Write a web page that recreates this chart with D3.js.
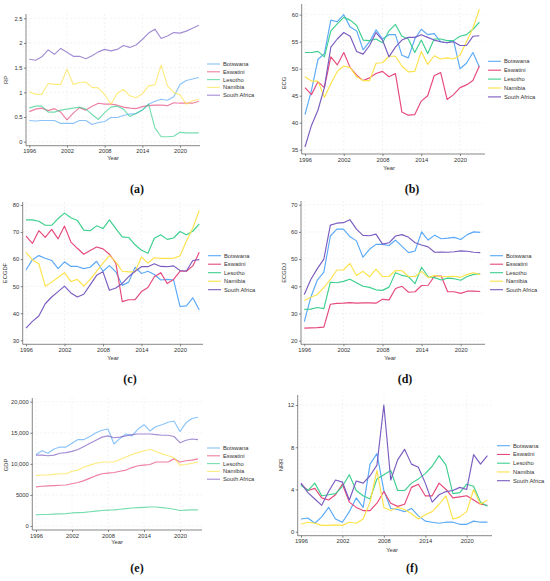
<!DOCTYPE html>
<html>
<head>
<meta charset="utf-8">
<script src="https://cdn.jsdelivr.net/npm/d3@7/dist/d3.min.js"></script>
<style>
  body { margin: 0; background: #fff; }
  svg { display: block; }
  .tick text { font-family: "Liberation Sans", Arial, sans-serif; font-size: 5.8px; fill: #333; }
  .lbl { font-family: "Liberation Sans", Arial, sans-serif; font-size: 5.8px; fill: #333; }
  .cap { font-family: "Liberation Serif", "DejaVu Serif", serif; font-size: 12px; font-weight: bold; fill: #111; }
</style>
</head>
<body>
<svg id="chart" width="550" height="581"></svg>
<script>
"use strict";

// years 1996 - 2023
var years = d3.range(1996, 2024);
var countries = ['Botswana', 'Eswatini', 'Lesotho', 'Namibia', 'South Africa'];
var colors = ['#5aa9f7', '#e6497a', '#3ccf8e', '#fde24a', '#7a5cc0'];
var yearTicks = [1996, 2002, 2008, 2014, 2020];

// (a) RP
var rpBotswana = [0.43,0.42,0.43,0.43,0.43,0.37,0.37,0.37,0.43,0.43,0.35,0.39,0.41,0.49,0.49,0.53,0.56,0.57,0.64,0.76,0.82,0.86,0.84,0.91,1.16,1.24,1.27,1.30];
var rpEswatini = [0.61,0.66,0.68,0.63,0.67,0.60,0.44,0.58,0.69,0.64,0.72,0.78,0.76,0.76,0.74,0.70,0.68,0.67,0.71,0.73,0.74,0.74,0.73,0.79,0.78,0.78,0.78,0.82];
var rpLesotho = [0.68,0.72,0.72,0.60,0.60,0.64,0.66,0.68,0.70,0.66,0.55,0.45,0.59,0.70,0.72,0.66,0.51,0.57,0.64,0.76,0.28,0.10,0.10,0.11,0.19,0.18,0.18,0.18];
var rpNamibia = [1.01,0.96,0.96,1.18,1.16,1.16,1.47,1.16,1.20,1.21,1.10,1.09,0.96,0.76,0.98,1.06,0.93,0.89,0.97,1.13,1.15,1.55,1.13,1.00,0.95,0.76,0.83,0.86];
var rpSouthAfrica = [1.67,1.65,1.72,1.86,1.77,1.89,1.81,1.73,1.73,1.68,1.74,1.82,1.87,1.84,1.87,1.95,1.91,1.96,2.07,2.20,2.28,2.09,2.14,2.21,2.20,2.24,2.30,2.36];

// (b) ECG
var ecgBotswana = [41.5,46.0,51.7,52.8,59.0,58.7,60.0,57.7,57.0,53.5,55.0,57.2,55.5,56.3,56.3,52.5,52.0,55.5,57.3,56.3,56.5,55.0,54.8,55.2,50.0,51.0,53.0,50.3];
var ecgEswatini = [46.5,45.2,47.6,46.5,52.2,50.7,53.0,50.2,48.8,47.8,48.3,49.1,49.5,48.5,49.1,42.0,41.4,41.5,44.0,45.0,48.7,49.3,44.3,45.2,46.5,47.0,47.8,50.5];
var ecgLesotho = [53.0,53.0,53.2,52.2,57.0,58.3,59.5,59.0,58.0,55.3,55.2,55.5,54.8,57.0,58.2,56.0,55.5,53.0,55.3,52.8,55.5,55.5,55.2,55.2,56.0,56.3,57.3,58.6];
var ecgNamibia = [48.5,47.7,47.7,44.7,47.2,49.5,50.5,50.2,48.5,47.8,47.8,51.0,51.1,52.3,52.3,50.5,49.4,49.5,53.2,50.8,52.4,51.8,52.0,51.8,52.5,55.0,57.5,61.0];
var ecgSouthAfrica = [35.5,39.5,42.3,46.5,54.0,55.5,56.7,56.0,53.2,52.7,54.3,56.7,55.3,52.2,54.0,55.3,55.8,55.8,56.3,55.8,55.3,55.0,54.8,55.0,54.3,54.3,56.0,56.1];

// (c) ECGDF
var ecgdfBotswana = [56.0,59.8,61.3,60.3,59.5,56.5,59.0,57.3,57.3,56.5,57.0,59.2,55.5,57.6,55.3,50.3,51.5,57.0,54.7,55.5,54.3,52.3,52.5,52.3,42.5,42.7,45.7,41.2];
var ecgdfEswatini = [68.5,65.8,70.5,68.0,71.0,67.5,72.2,66.3,64.0,61.8,63.2,64.5,63.8,61.8,58.5,44.3,45.0,45.0,48.0,49.5,53.5,55.0,51.0,52.5,55.5,55.5,57.5,62.5];
var ecgdfLesotho = [74.5,74.5,74.0,72.5,72.5,75.0,77.0,75.3,74.3,70.7,70.5,72.3,71.3,74.5,71.3,68.2,68.0,65.3,63.3,62.2,67.7,69.0,67.3,67.8,70.2,69.0,70.3,73.0];
var ecgdfNamibia = [62.5,59.7,58.3,50.0,51.5,53.2,55.0,51.7,52.5,50.0,52.5,55.5,58.5,61.3,59.0,55.5,55.3,55.3,60.8,58.5,60.5,60.3,60.3,60.3,61.2,66.7,71.5,78.0];
var ecgdfSouthAfrica = [34.5,37.0,39.0,43.5,46.0,48.0,50.0,47.5,46.0,47.0,50.5,54.0,55.3,48.5,49.3,51.0,53.5,55.5,57.2,57.2,58.3,57.3,57.2,57.5,55.8,55.6,59.5,59.8];

// (d) ECGDJ
var ecgdjBotswana = [27.0,36.0,42.3,45.2,58.5,61.0,61.0,58.3,56.7,50.7,53.6,55.4,55.4,55.0,57.0,54.7,52.4,53.0,60.0,57.0,58.8,57.5,57.7,58.0,57.2,59.0,60.0,59.8];
var ecgdjEswatini = [24.6,24.7,24.8,25.0,33.4,33.7,33.8,34.0,33.8,33.9,33.9,33.8,35.2,35.0,39.2,40.0,37.8,38.0,40.3,40.4,43.8,43.8,38.0,38.0,37.4,38.2,38.2,38.1];
var ecgdjLesotho = [31.5,31.6,32.2,31.8,41.5,41.3,41.8,42.6,41.3,40.0,39.6,38.7,38.5,39.7,45.0,44.0,43.5,41.0,47.0,43.5,43.2,42.3,43.0,42.8,42.2,43.6,44.4,44.6];
var ecgdjNamibia = [34.8,36.0,37.0,39.5,42.5,46.0,46.0,48.4,44.0,45.5,43.5,46.3,43.6,43.6,45.8,45.7,43.6,43.6,45.5,43.2,44.0,43.5,43.6,43.7,43.3,44.4,45.0,44.3];
var ecgdjSouthAfrica = [37.0,42.5,46.5,50.0,62.5,63.2,63.4,64.5,61.0,58.7,58.6,59.2,55.5,56.0,58.5,59.0,58.0,56.0,55.2,54.5,52.5,52.6,52.5,52.7,53.0,52.9,52.5,52.4];

// (e) GDP
var gdpBotswana = [11500,12100,11700,12400,12700,12700,13300,13900,13900,14400,15000,15400,15600,13200,14100,14800,14500,15600,16300,15300,16000,16300,16700,16900,15200,16600,17300,17500];
var gdpEswatini = [6300,6400,6450,6500,6550,6600,6800,7000,7300,7700,8100,8400,8500,8600,8800,9000,9400,9700,9800,9900,10300,10300,10300,10800,10300,10500,10600,10800];
var gdpLesotho = [1800,1850,1850,1900,1950,2000,2100,2150,2200,2300,2400,2500,2550,2600,2700,2800,2900,2950,3000,3050,3050,2950,2850,2700,2500,2550,2600,2600];
var gdpNamibia = [8100,8200,8200,8300,8400,8400,8800,9000,9500,9800,10100,10300,10300,10300,10700,11100,11500,11800,12100,12300,12000,11600,11300,11000,9800,9900,10100,10300];
var gdpSouthAfrica = [11400,11400,11300,11400,11700,11800,12000,12300,12800,13300,13800,14300,14500,14200,14300,14500,14700,14800,14800,14800,14700,14600,14600,14400,13400,13800,14000,13900];

// (f) NRR
var nrrBotswana = [1.2,1.3,0.8,1.4,2.3,1.2,0.9,1.9,3.2,2.3,6.4,7.4,3.9,2.2,2.1,1.9,2.2,1.5,1.0,0.9,0.8,0.9,0.9,0.7,0.7,1.0,0.9,0.9];
var nrrEswatini = [4.5,3.9,4.1,3.2,3.0,3.5,4.5,2.8,2.3,2.0,2.0,2.7,3.8,2.7,2.4,2.6,4.2,4.5,3.4,3.4,4.6,4.0,3.2,3.3,3.4,3.0,2.6,2.5];
var nrrLesotho = [4.4,3.9,4.6,3.4,3.5,3.6,4.3,5.4,3.9,3.4,3.1,5.0,5.4,5.8,3.9,3.9,4.6,5.0,5.5,6.2,7.2,6.3,3.6,3.7,4.5,4.3,2.8,2.4];
var nrrNamibia = [0.7,0.9,0.8,0.6,0.6,0.65,0.6,0.9,0.8,1.2,2.8,5.8,2.3,2.0,2.3,2.1,1.7,1.2,1.6,1.9,2.6,3.4,1.2,1.4,1.9,4.0,2.6,3.0];
var nrrSouthAfrica = [4.6,3.7,3.1,2.5,3.8,4.9,4.7,3.0,4.8,4.6,5.3,6.3,12.0,4.9,6.8,7.8,6.4,6.1,4.6,2.8,3.5,3.8,3.9,4.2,4.0,7.3,6.4,7.2];

var rpTicks = [0, 0.5, 1, 1.5, 2, 2.5];
var ecgTicks = [35, 40, 45, 50, 55, 60];
var ecgdfTicks = [30, 40, 50, 60, 70, 80];
var ecgdjTicks = [20, 30, 40, 50, 60, 70];
var gdpTicks = [0, 5000, 10000, 15000, 20000];
var nrrTicks = [0, 4, 8, 12];

// panel layout
var panels = [
	{ cap: '(a)', name: 'RP', series: [rpBotswana, rpEswatini, rpLesotho, rpNamibia, rpSouthAfrica], ticks: rpTicks,
	  fmt: d3.format(''), xr: [29.3, 180], yd: [0, 2.5], yr: [141.7, 18.3], axX: 26, axY: 145.7, top: 14, right: 200,
	  ylab: [6, 80], xlab: [113, 158], capPos: [137, 193], leg: [207, 64], legStep: 7.8, alpha: 0.7 },
	{ cap: '(b)', name: 'ECG', series: [ecgBotswana, ecgEswatini, ecgLesotho, ecgNamibia, ecgSouthAfrica], ticks: ecgTicks,
	  fmt: d3.format(''), xr: [305, 460], yd: [35, 60], yr: [149.7, 14.7], axX: 301.7, axY: 154, top: 4, right: 485,
	  ylab: [284, 83], xlab: [389, 168], capPos: [412, 193], leg: [488, 61.3], legStep: 8.9, alpha: 1 },
	{ cap: '(c)', name: 'ECGDF', series: [ecgdfBotswana, ecgdfEswatini, ecgdfLesotho, ecgdfNamibia, ecgdfSouthAfrica], ticks: ecgdfTicks,
	  fmt: d3.format(''), xr: [26, 180], yd: [30, 80], yr: [340.3, 205], axX: 22.7, axY: 344.3, top: 202, right: 203,
	  ylab: [5, 273], xlab: [113, 358], capPos: [130, 383], leg: [208, 255.7], legStep: 8.5, alpha: 1 },
	{ cap: '(d)', name: 'ECGDJ', series: [ecgdjBotswana, ecgdjEswatini, ecgdjLesotho, ecgdjNamibia, ecgdjSouthAfrica], ticks: ecgdjTicks,
	  fmt: d3.format(''), xr: [304.3, 460.7], yd: [20, 70], yr: [340.7, 204.7], axX: 301, axY: 344.3, top: 201, right: 485,
	  ylab: [284, 273], xlab: [390, 358], capPos: [405, 383], leg: [490, 255.7], legStep: 8.5, alpha: 1 },
	{ cap: '(e)', name: 'GDP', series: [gdpBotswana, gdpEswatini, gdpLesotho, gdpNamibia, gdpSouthAfrica], ticks: gdpTicks,
	  fmt: function(d) { return d >= 10000 ? d3.format(',')(d) : String(d); }, xr: [36, 180], yd: [0, 20000], yr: [526, 401.7], axX: 32.3, axY: 530, top: 398, right: 202,
	  ylab: [6, 465], xlab: [117, 542], capPos: [137, 572], leg: [207, 448], legStep: 7.8, alpha: 0.7 },
	{ cap: '(f)', name: 'NRR', series: [nrrBotswana, nrrEswatini, nrrLesotho, nrrNamibia, nrrSouthAfrica], ticks: nrrTicks,
	  fmt: d3.format(''), xr: [301, 466.7], yd: [0, 12], yr: [531.7, 405], axX: 297.7, axY: 535.7, top: 395, right: 492,
	  ylab: [281, 465], xlab: [392, 550], capPos: [412, 572], leg: [497, 445.7], legStep: 8.75, alpha: 1 }
];

var svg = d3.select('#chart');

panels.forEach(function(p) {
	var x = d3.scaleLinear().domain([1996, 2020]).range(p.xr);
	var y = d3.scaleLinear().domain(p.yd).range(p.yr);
	var g = svg.append('g');

	// grid
	g.append('g').selectAll('line.gx').data(yearTicks).join('line')
		.attr('x1', function(d) { return x(d); }).attr('x2', function(d) { return x(d); })
		.attr('y1', p.top).attr('y2', p.axY)
		.attr('stroke', '#e6e6e6').attr('stroke-width', 0.5).attr('stroke-dasharray', '2,2');
	g.append('g').selectAll('line.gy').data(p.ticks).join('line')
		.attr('x1', p.axX).attr('x2', p.right)
		.attr('y1', function(d) { return y(d); }).attr('y2', function(d) { return y(d); })
		.attr('stroke', '#e6e6e6').attr('stroke-width', 0.5).attr('stroke-dasharray', '2,2');

	// axes
	var yAxis = g.append('g').attr('transform', 'translate(' + p.axX + ',0)')
		.call(d3.axisLeft(y).tickValues(p.ticks).tickFormat(p.fmt).tickSize(2).tickPadding(1.5));
	yAxis.select('.domain').attr('d', 'M0,' + p.top + 'V' + p.axY);
	var xAxis = g.append('g').attr('transform', 'translate(0,' + p.axY + ')')
		.call(d3.axisBottom(x).tickValues(yearTicks).tickFormat(d3.format('d')).tickSize(2).tickPadding(1.5));
	xAxis.select('.domain').attr('d', 'M' + p.axX + ',0H' + p.right);
	g.selectAll('.domain').attr('stroke', '#555').attr('stroke-width', 0.7);
	g.selectAll('.tick line').attr('stroke', '#555').attr('stroke-width', 0.7);

	// lines
	var line = d3.line()
		.x(function(d, i) { return x(years[i]); })
		.y(function(d) { return y(d); });
	p.series.forEach(function(s, i) {
		g.append('path').datum(s)
			.attr('d', line)
			.attr('fill', 'none')
			.attr('stroke', colors[i])
			.attr('stroke-opacity', p.alpha)
			.attr('stroke-width', 1.15)
			.attr('stroke-linejoin', 'round');
	});

	// labels
	g.append('text').attr('class', 'lbl')
		.attr('transform', 'translate(' + p.ylab[0] + ',' + p.ylab[1] + ') rotate(-90)')
		.attr('text-anchor', 'middle').attr('dy', '0.35em').text(p.name);
	g.append('text').attr('class', 'lbl')
		.attr('x', p.xlab[0]).attr('y', p.xlab[1])
		.attr('text-anchor', 'middle').attr('dy', '0.35em').text('Year');
	g.append('text').attr('class', 'cap')
		.attr('x', p.capPos[0]).attr('y', p.capPos[1])
		.attr('text-anchor', 'middle').text(p.cap);

	// legend
	var leg = g.append('g').attr('transform', 'translate(' + p.leg[0] + ',' + p.leg[1] + ')');
	countries.forEach(function(c, i) {
		leg.append('line')
			.attr('x1', 0).attr('x2', 13)
			.attr('y1', i * p.legStep).attr('y2', i * p.legStep)
			.attr('stroke', colors[i]).attr('stroke-opacity', p.alpha).attr('stroke-width', 1.1);
		leg.append('text').attr('class', 'lbl')
			.attr('x', 16).attr('y', i * p.legStep).attr('dy', '0.35em').text(c);
	});
});
</script>
</body>
</html>
